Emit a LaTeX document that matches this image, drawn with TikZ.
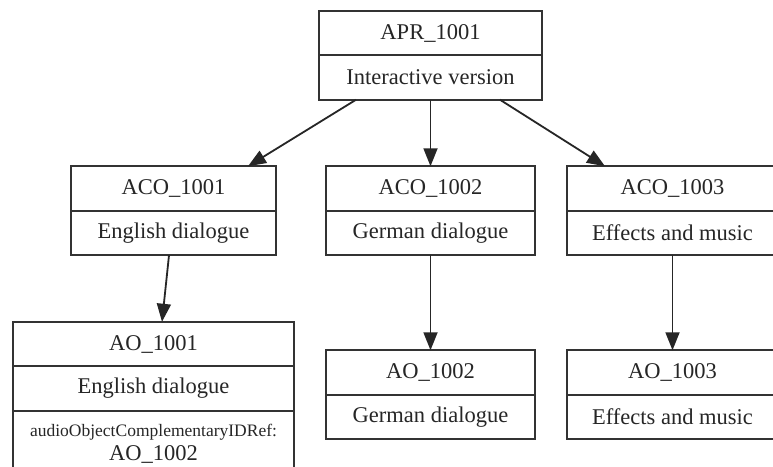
\documentclass[tikz,border=0pt]{standalone}
\usepackage{fontspec}
\setmainfont{Liberation Serif}
\usetikzlibrary{positioning, arrows.meta}

\begin{document}
\begin{tikzpicture}[
x=1pt, y=-1pt,
% record cells
cell/.style={draw=black!80, line width=2pt, rectangle, inner sep=0pt, outer sep=0pt, minimum height=44.5pt, text=black!85, font=\fontsize{22.5}{27}\selectfont},
aprcell/.style={cell, minimum width=223pt},
acocell/.style={cell, minimum width=207pt},
aocell/.style={cell, minimum width=209pt},
refcell/.style={cell, minimum height=66pt, align=center},
% connectors
link/.style={draw=black!85, line width=1.8pt, -{Triangle[length=18pt, width=14pt]}}
]

% FRAME
\useasboundingbox[fill=white] (0,0) rectangle (773,466);
\clip (0,0) rectangle (773,466);

% PROGRAMME
\node[aprcell] (apr) at (430.5,33) {APR\_1001};
\node[aprcell, below=0pt of apr] (aprname) {Interactive version};

% CONTENTS
\node[acocell, minimum width=205pt] (aco1) at (173.5,188.5) {ACO\_1001};
\node[acocell, minimum width=205pt, below=0pt of aco1] (aco1name) {English dialogue};
\node[acocell, minimum width=209pt] (aco2) at (430.5,188.5) {ACO\_1002};
\node[acocell, minimum width=209pt, below=0pt of aco2] (aco2name) {German dialogue};
\node[acocell, minimum width=211pt] (aco3) at (672.5,188.5) {ACO\_1003};
\node[acocell, minimum width=211pt, below=0pt of aco3] (aco3name) {Effects and music};

% OBJECTS
\node[aocell, minimum width=281pt] (ao1) at (153.5,344) {AO\_1001};
\node[aocell, minimum width=281pt, below=0pt of ao1] (ao1name) {English dialogue};
\node[refcell, minimum width=281pt, below=0pt of ao1name] (ao1ref) {{\fontsize{17.5}{20}\selectfont audioObjectComplementaryIDRef:}\\[-3pt]AO\_1002};
\node[aocell] (ao2) at (430.5,372.5) {AO\_1002};
\node[aocell, below=0pt of ao2] (ao2name) {German dialogue};
\node[aocell, minimum width=211pt] (ao3) at (672.5,372.5) {AO\_1003};
\node[aocell, minimum width=211pt, below=0pt of ao3] (ao3name) {Effects and music};

% LINKS
\draw[link] ([xshift=-74.5pt]aprname.south) -- ([xshift=74.5pt]aco1.north);
\draw[link] (aprname.south) -- (aco2.north);
\draw[link] ([xshift=69.5pt]aprname.south) -- ([xshift=-67.5pt]aco3.north);
\draw[link] ([xshift=-4.5pt]aco1name.south) -- ([xshift=8.5pt]ao1.north);
\draw[link] (aco2name.south) -- (ao2.north);
\draw[link] (aco3name.south) -- (ao3.north);

\end{tikzpicture}
\end{document}
